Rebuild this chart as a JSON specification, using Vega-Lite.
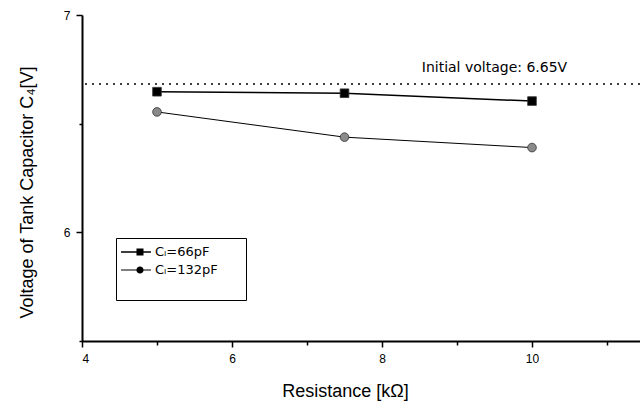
{
  "$schema": "https://vega.github.io/schema/vega-lite/v6.json",
  "width": 558,
  "height": 326,
  "autosize": {"type": "none"},
  "padding": {"left": 82, "top": 15, "right": 0, "bottom": 63},
  "background": "white",
  "config": {
    "view": {"stroke": null},
    "font": "Liberation Sans",
    "axis": {"grid": false, "domainColor": "black", "domainWidth": 2, "tickColor": "black", "tickWidth": 1.5, "labelColor": "black", "titleColor": "black", "labelFont": "Liberation Sans", "titleFont": "Liberation Sans", "titleFontWeight": "normal"}
  },
  "data": {
    "values": [
      {"r": 5, "v": 6.647, "series": "Cₗ=66pF"},
      {"r": 7.5, "v": 6.640, "series": "Cₗ=66pF"},
      {"r": 10, "v": 6.604, "series": "Cₗ=66pF"},
      {"r": 5, "v": 6.554, "series": "Cₗ=132pF"},
      {"r": 7.5, "v": 6.438, "series": "Cₗ=132pF"},
      {"r": 10, "v": 6.390, "series": "Cₗ=132pF"}
    ]
  },
  "layer": [
    {
      "data": {"values": [{"level": 6.682}]},
      "mark": {"type": "rule", "strokeDash": [2, 5], "strokeWidth": 1.5, "color": "black"},
      "encoding": {"y": {"field": "level", "type": "quantitative"}}
    },
    {
      "data": {"values": [{"x": 8.53, "y": 6.737, "label": "Initial voltage: 6.65V"}]},
      "mark": {"type": "text", "align": "left", "baseline": "alphabetic", "fontSize": 14, "fontWeight": "normal", "font": "DejaVu Sans", "fill": "black"},
      "encoding": {
        "x": {"field": "x", "type": "quantitative"},
        "y": {"field": "y", "type": "quantitative"},
        "text": {"field": "label"}
      }
    },
    {
      "mark": {"type": "line", "color": "black"},
      "encoding": {
        "x": {"field": "r", "type": "quantitative", "scale": {"domain": [4, 11.44], "nice": false, "zero": false},
          "axis": {"values": [4, 5, 6, 7, 8, 9, 10, 11], "format": "d", "labelExpr": "datum.value % 2 == 0 ? datum.label : ''", "tickSize": {"condition": {"test": "datum.value % 2 == 0", "value": 6}, "value": 4}, "labelFontSize": 12, "labelPadding": 6, "title": "Resistance [kΩ]", "titleFontSize": 18, "titleX": 263, "titleY": 55, "titleAlign": "center", "titleBaseline": "alphabetic"}},
        "y": {"field": "v", "type": "quantitative", "scale": {"domain": [5.5, 7], "nice": false, "zero": false},
          "axis": {"values": [5.5, 6, 6.5, 7], "format": ".0f", "labelExpr": "datum.value % 1 == 0 ? datum.label : ''", "tickSize": {"condition": {"test": "datum.value % 1 == 0", "value": 6}, "value": 3}, "labelFontSize": 12, "labelPadding": 6, "title": "Voltage of Tank Capacitor C₄[V]", "titleFontSize": 18, "titleX": -50, "titleY": 177, "titleAlign": "center", "titleBaseline": "alphabetic", "titleAngle": -90}},
        "detail": {"field": "series"},
        "strokeWidth": {"field": "series", "type": "nominal", "scale": {"domain": ["Cₗ=66pF", "Cₗ=132pF"], "range": [1.5, 1]}, "legend": null}
      }
    },
    {
      "mark": {"type": "point", "filled": true, "stroke": "#333", "strokeWidth": 0.8, "opacity": 1},
      "encoding": {
        "x": {"field": "r", "type": "quantitative"},
        "y": {"field": "v", "type": "quantitative"},
        "shape": {"field": "series", "type": "nominal", "scale": {"domain": ["Cₗ=66pF", "Cₗ=132pF"], "range": ["square", "circle"]}, "legend": null},
        "fill": {"field": "series", "type": "nominal", "scale": {"domain": ["Cₗ=66pF", "Cₗ=132pF"], "range": ["black", "#8a8a8a"]}, "legend": null},
        "size": {"value": 75}
      }
    },
    {
      "mark": {"type": "point", "filled": true, "opacity": 0, "color": "black"},
      "encoding": {
        "x": {"field": "r", "type": "quantitative"},
        "y": {"field": "v", "type": "quantitative"},
        "shape": {"field": "series", "type": "nominal", "scale": {"domain": ["Cₗ=66pF", "Cₗ=132pF", "\u2800\u2800\u2800\u2800\u2800\u2800\u2800\u2800\u2800"], "range": ["M-1,-0.07L2.33,-0.07L2.33,0.07L-1,0.07Z M0.72,-0.39L1.5,-0.39L1.5,0.39L0.72,0.39Z", "M-1,-0.05L2.33,-0.05L2.33,0.05L-1,0.05Z M0.71,0A0.4,0.4,0,1,1,1.51,0A0.4,0.4,0,1,1,0.71,0Z", "M0,0"]},
          "legend": {"title": null, "orient": "none", "legendX": 34, "legendY": 223, "strokeColor": "black", "fillColor": "white", "padding": 5, "symbolOpacity": 1, "symbolSize": 324, "symbolStrokeWidth": 0, "labelFontSize": 13, "labelFont": "DejaVu Sans", "labelColor": "black", "rowPadding": 2, "labelOffset": 16, "titlePadding": 0, "symbolOffset": 0}}
      }
    }
  ],
  "resolve": {"scale": {"shape": "independent", "fill": "independent"}}
}
